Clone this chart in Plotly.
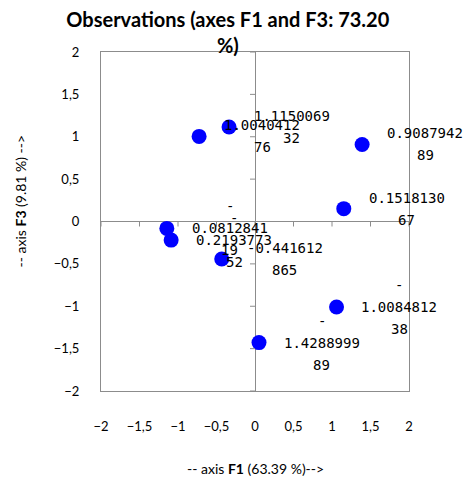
import plotly.graph_objects as go

# Observation coordinates on factors F1 (x) and F3 (y)
f1_scores = [-0.726, -0.337, 1.391, 1.153, 1.059, 0.052, -1.145, -1.089, -0.432]
f3_scores = [1.004041276, 1.115006932, 0.908794289, 0.151813067, -1.008481238,
             -1.428899989, -0.081284119, -0.219377352, -0.441612865]
# Point labels (F3 value, wrapped into lines)
point_labels = [
    ["1.0040412", "76"],
    ["1.1150069", "32"],
    ["0.9087942", "89"],
    ["0.1518130", "67"],
    ["-", "1.0084812", "38"],
    ["-", "1.4288999", "89"],
    ["-", "0.0812841", "19"],
    ["-", "0.2193773", "52"],
    ["-0.441612", "865"],
]
tick_vals = [-2, -1.5, -1, -0.5, 0, 0.5, 1, 1.5, 2]

GRAY = "#8c8c8c"
LABEL_FONT = dict(family="DejaVu Sans Mono", size=14, color="black")
CHAR_W = 8.43
LINE_H = 22

fig = go.Figure()
fig.add_trace(go.Scatter(
    x=f1_scores, y=f3_scores, mode="markers",
    marker=dict(size=15, color="#0000ff", line=dict(width=0)),
    hoverinfo="skip", showlegend=False,
))

annotations = []
for x, y, lines in zip(f1_scores, f3_scores, point_labels):
    box_w = max(len(s) for s in lines) * CHAR_W
    n = len(lines)
    for i, s in enumerate(lines):
        annotations.append(dict(
            x=x, y=y, xref="x", yref="y", text=s, showarrow=False,
            xanchor="center", yanchor="middle",
            xshift=25 + box_w / 2, yshift=-(i - (n - 1) / 2) * LINE_H,
            font=LABEL_FONT,
        ))

# Axis titles
annotations.append(dict(
    x=0.5, y=-0.23, xref="paper", yref="paper", showarrow=False,
    text="-- axis <b>F1</b> (63.39 %)-->", xanchor="center", yanchor="middle",
    font=dict(family="Lato", size=14, color="black"),
))
annotations.append(dict(
    x=-0.262, y=0.56, xref="paper", yref="paper", showarrow=False,
    text="-- axis <b>F3</b> (9.81 %) -->", textangle=-90,
    xanchor="center", yanchor="middle",
    font=dict(family="Lato", size=14, color="black"),
))

# Tick marks on the axes crossing at zero
shapes = []
for t in tick_vals:
    shapes.append(dict(type="line", xref="x", yref="y", x0=t, x1=t,
                       ysizemode="pixel", yanchor=0, y0=0, y1=-5,
                       line=dict(color=GRAY, width=1)))
    shapes.append(dict(type="line", xref="x", yref="y", y0=t, y1=t,
                       xsizemode="pixel", xanchor=0, x0=-5, x1=0,
                       line=dict(color=GRAY, width=1)))

axis_common = dict(
    range=[-2, 2], tickvals=tick_vals, showgrid=False,
    zeroline=True, zerolinecolor=GRAY, zerolinewidth=1,
    showline=True, linecolor=GRAY, linewidth=1, mirror=True,
    ticks="", tickfont=dict(family="Lato", size=13, color="black"),
)

fig.update_layout(
    width=465, height=480,
    margin=dict(l=101, r=56, t=52, b=89, pad=0),
    paper_bgcolor="white", plot_bgcolor="white",
    separators=",.",
    title=dict(
        text="<b>Observations (axes F1 and F3: 73.20<br>%)</b>",
        x=0.49, xanchor="center", y=0.943, yanchor="top",
        font=dict(family="Lato", size=20, color="black"),
    ),
    xaxis=dict(**axis_common, ticklabelstandoff=23),
    yaxis=dict(**axis_common, ticklabelstandoff=18),
    annotations=annotations,
    shapes=shapes,
)

fig.write_html("out.html")
